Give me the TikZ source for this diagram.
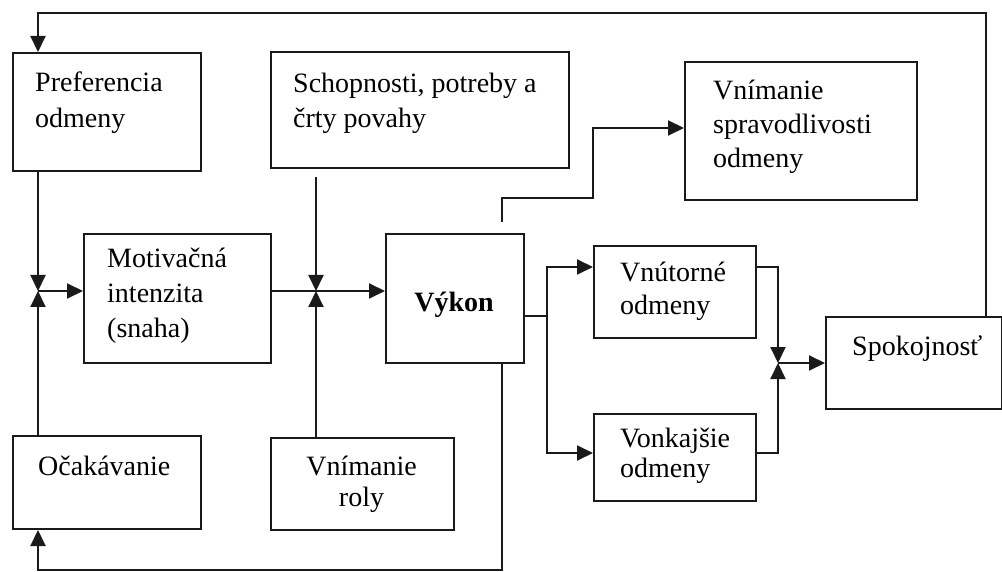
\documentclass[tikz,border=0pt]{standalone}
\usepackage{fontspec}
\setmainfont{Liberation Serif}
\usetikzlibrary{arrows.meta}
\definecolor{linec}{HTML}{1A1A1A}
\begin{document}
\begin{tikzpicture}[x=1pt,y=-1pt,
  box/.style={draw=linec, line width=2pt, anchor=north west, inner sep=0pt},
  ln/.style={draw=linec, line width=2pt},
  arr/.style={-{Triangle[length=16pt,width=15pt]}},
  txt/.style={anchor=base west, inner sep=0pt, text=black},
  ctxt/.style={anchor=base, inner sep=0pt, text=black}]
\useasboundingbox (0,0) rectangle (1002,572);
% boxes
\node[box, minimum width=188pt, minimum height=118pt] (pref) at (12,52) {};
\node[box, minimum width=298pt, minimum height=116pt] (schop) at (270,51) {};
\node[box, minimum width=232pt, minimum height=138pt] (sprav) at (684,61) {};
\node[box, minimum width=187pt, minimum height=129pt] (motiv) at (83,233) {};
\node[box, minimum width=138pt, minimum height=129pt] (vykon) at (385,233) {};
\node[box, minimum width=162pt, minimum height=92pt] (vnut) at (593,245) {};
\node[box, minimum width=162pt, minimum height=87pt] (vonk) at (593,413) {};
\node[box, minimum width=176pt, minimum height=92pt] (spok) at (825,316) {};
\node[box, minimum width=188pt, minimum height=93pt] (ocak) at (12,435) {};
\node[box, minimum width=183pt, minimum height=92pt] (roly) at (270,437) {};
% texts
\node[txt, font=\fontsize{28}{36}\selectfont] (pref-t) at (35,92) {\begin{tabular}[t]{@{}l@{}}Preferencia\\odmeny\end{tabular}};
\node[txt, font=\fontsize{28}{35}\selectfont] (schop-t) at (293,93) {\begin{tabular}[t]{@{}l@{}}Schopnosti, potreby a\\črty povahy\end{tabular}};
\node[txt, font=\fontsize{28}{34}\selectfont] (sprav-t) at (713,100) {\begin{tabular}[t]{@{}l@{}}Vnímanie\\spravodlivosti\\odmeny\end{tabular}};
\node[txt, font=\fontsize{28}{35}\selectfont] (motiv-t) at (107,268) {\begin{tabular}[t]{@{}l@{}}Motivačná\\intenzita\\(snaha)\end{tabular}};
\node[ctxt, font=\fontsize{28}{34}\selectfont\bfseries] (vykon-t) at (454,312) {Výkon};
\node[txt, font=\fontsize{28}{33}\selectfont] (vnut-t) at (620,282) {\begin{tabular}[t]{@{}l@{}}Vnútorné\\odmeny\end{tabular}};
\node[txt, font=\fontsize{28}{30}\selectfont] (vonk-t) at (620,447) {\begin{tabular}[t]{@{}l@{}}Vonkajšie\\odmeny\end{tabular}};
\node[txt, font=\fontsize{28}{34}\selectfont] (spok-t) at (852,355) {Spokojnosť};
\node[txt, font=\fontsize{28}{34}\selectfont] (ocak-t) at (38,475) {Očakávanie};
\node[ctxt, font=\fontsize{28}{31}\selectfont] (roly-t) at (361.5,475) {\begin{tabular}[t]{@{}c@{}}Vnímanie\\roly\end{tabular}};
% junctions and bends
\coordinate (j1) at (38,291);
\coordinate (j2) at (316,291);
\coordinate (j3) at (778,363);
\coordinate (c1) at (986,13);
\coordinate (b1) at (547,316);
\coordinate (pv1) at (0,267);
\coordinate (pv2) at (0,453);
\coordinate (k1) at (502,198);
\coordinate (k2) at (593,128);
\coordinate (k3) at (502,570);
% connectors
\draw[ln,arr] (spok.north -| c1) -- (c1) -| (pref.north -| j1);
\draw[ln,arr] (pref.south -| j1) -- (j1);
\draw[ln,arr] (ocak.north -| j1) -- (j1);
\draw[ln,arr] (j1) -- (j1 -| motiv.west);
\draw[ln] (motiv.east |- j2) -- (j2);
\draw[ln,arr] (j2) -- (j2 -| vykon.west);
\draw[ln,arr,shorten <=8pt] (schop.south -| j2) -- (j2);
\draw[ln,arr] (roly.north -| j2) -- (j2);
\draw[ln] (vykon.east |- b1) -- (b1);
\draw[ln,arr] (b1) |- (vnut.west |- pv1);
\draw[ln,arr] (b1) |- (vonk.west |- pv2);
\draw[ln,arr] (vnut.east |- pv1) -| (j3);
\draw[ln,arr] (vonk.east |- pv2) -| (j3);
\draw[ln,arr] (j3) -- (j3 -| spok.west);
\draw[ln,arr,shorten <=11pt] (vykon.north -| k1) -- (k1) -| (k2) -- (k2 -| sprav.west);
\draw[ln,arr] (vykon.south -| k3) -- (k3) -| (ocak.south -| j1);
\end{tikzpicture}
\end{document}
